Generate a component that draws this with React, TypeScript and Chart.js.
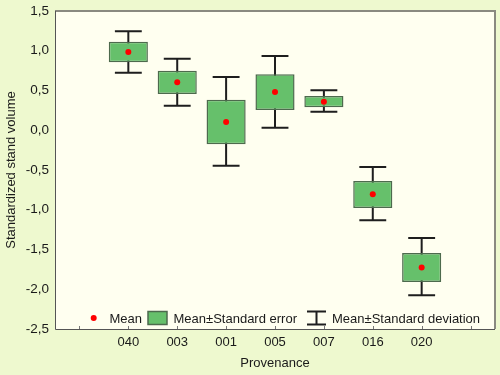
import React, { useEffect, useRef } from "react";
import { Chart, registerables } from "chart.js";

Chart.register(...registerables);

const categories = ["", "040", "003", "001", "005", "007", "016", "020", ""];
const means = [null, 0.985, 0.605, 0.105, 0.48, 0.36, -0.805, -1.725, null];
const seLow = [null, 0.855, 0.456, -0.177, 0.255, 0.289, -0.978, -1.909, null];
const seHigh = [null, 1.114, 0.749, 0.384, 0.703, 0.431, -0.638, -1.544, null];
const sdLow = [null, 0.724, 0.309, -0.446, 0.032, 0.234, -1.133, -2.076, null];
const sdHigh = [null, 1.244, 0.9, 0.67, 0.934, 0.502, -0.462, -1.355, null];
const yTicks = [-2.5, -2.0, -1.5, -1.0, -0.5, 0.0, 0.5, 1.0, 1.5];

const FONT = '"Liberation Sans", Arial, sans-serif';
const TEXT = "#1a1a1a";
const GREEN = "#66c06b";
const GREEN_BORDER = "#4d6a4d";

const bgPlugin = {
  id: "bgPlugin",
  beforeDraw(chart: any) {
    const { ctx, chartArea: ca, width, height } = chart;
    ctx.save();
    ctx.fillStyle = "#eef9cf";
    ctx.fillRect(0, 0, width, height);
    ctx.fillStyle = "#fffff0";
    ctx.fillRect(ca.left, ca.top, ca.right - ca.left, ca.bottom - ca.top);
    ctx.restore();
  },
  beforeDatasetsDraw(chart: any) {
    const { ctx, scales } = chart;
    const xs = scales.x;
    const ys = scales.y;
    ctx.save();
    ctx.strokeStyle = "#1e1e1e";
    ctx.lineWidth = 2;
    const half = (xs.getPixelForValue(1) - xs.getPixelForValue(0)) * 0.275;
    for (let i = 0; i < categories.length; i++) {
      if (sdLow[i] == null || sdHigh[i] == null) continue;
      const x = xs.getPixelForValue(i);
      const yt = ys.getPixelForValue(sdHigh[i] as number);
      const yb = ys.getPixelForValue(sdLow[i] as number);
      ctx.beginPath();
      ctx.moveTo(x, yt);
      ctx.lineTo(x, yb);
      ctx.moveTo(x - half, yt);
      ctx.lineTo(x + half, yt);
      ctx.moveTo(x - half, yb);
      ctx.lineTo(x + half, yb);
      ctx.stroke();
    }
    ctx.restore();
  },
  afterDatasetsDraw(chart: any) {
    const { ctx, chartArea: ca, scales } = chart;
    const xs = scales.x;
    ctx.save();
    // frame
    ctx.strokeStyle = "#8a8a80";
    ctx.lineWidth = 2;
    ctx.beginPath();
    ctx.moveTo(ca.left, ca.top);
    ctx.lineTo(ca.right, ca.top);
    ctx.lineTo(ca.right, ca.bottom);
    ctx.stroke();
    ctx.strokeStyle = "#555555";
    ctx.lineWidth = 1;
    ctx.beginPath();
    ctx.moveTo(ca.left + 0.5, ca.top);
    ctx.lineTo(ca.left + 0.5, ca.bottom + 0.5);
    ctx.lineTo(ca.right, ca.bottom + 0.5);
    ctx.stroke();
    // inward x ticks
    ctx.strokeStyle = "#777";
    for (let i = 0; i < categories.length; i++) {
      const x = Math.round(xs.getPixelForValue(i)) + 0.5;
      ctx.beginPath();
      ctx.moveTo(x, ca.bottom);
      ctx.lineTo(x, ca.bottom - 3);
      ctx.stroke();
    }
    // legend
    const ly = ca.bottom - 11;
    const lx = ca.left;
    ctx.font = `13px ${FONT}`;
    ctx.fillStyle = TEXT;
    ctx.textBaseline = "middle";
    ctx.textAlign = "left";
    // mean dot
    ctx.beginPath();
    ctx.fillStyle = "#ff0000";
    ctx.arc(lx + 38.7, ly, 3, 0, Math.PI * 2);
    ctx.fill();
    ctx.fillStyle = TEXT;
    ctx.fillText("Mean", lx + 54.5, ly + 1);
    // green box
    ctx.fillStyle = GREEN;
    ctx.fillRect(lx + 93, ly - 6.5, 19, 13);
    ctx.strokeStyle = GREEN_BORDER;
    ctx.lineWidth = 1.5;
    ctx.strokeRect(lx + 93, ly - 6.5, 19, 13);
    ctx.fillStyle = TEXT;
    ctx.fillText("Mean\u00b1Standard error", lx + 118.5, ly + 1);
    // whisker icon
    ctx.strokeStyle = "#1e1e1e";
    ctx.lineWidth = 2;
    ctx.beginPath();
    ctx.moveTo(lx + 252, ly - 6.5);
    ctx.lineTo(lx + 271, ly - 6.5);
    ctx.moveTo(lx + 261.5, ly - 6.5);
    ctx.lineTo(lx + 261.5, ly + 6.5);
    ctx.moveTo(lx + 252, ly + 6.5);
    ctx.lineTo(lx + 271, ly + 6.5);
    ctx.stroke();
    ctx.fillText("Mean\u00b1Standard deviation", lx + 277, ly + 1);
    ctx.restore();
  },
};

export default function App() {
  const ref = useRef<HTMLCanvasElement | null>(null);
  useEffect(() => {
    document.body.style.margin = "0";
    const canvas = ref.current;
    if (!canvas) return;
    const boxes = categories.map((_, i) =>
      seLow[i] == null ? null : [seLow[i], seHigh[i]]
    );
    const chart = new Chart(canvas, {
      type: "bar",
      data: {
        labels: categories,
        datasets: [
          {
            type: "line",
            label: "Mean",
            data: means as any,
            showLine: false,
            pointRadius: 3,
            pointHoverRadius: 3,
            pointBackgroundColor: "#ff0000",
            pointBorderColor: "#ff0000",
            pointBorderWidth: 0,
            order: 0,
          } as any,
          {
            type: "bar",
            label: "Mean±Standard error",
            data: boxes as any,
            backgroundColor: GREEN,
            borderColor: GREEN_BORDER,
            borderWidth: 1.5,
            borderSkipped: false,
            barPercentage: 1,
            categoryPercentage: 0.8,
            grouped: false,
            order: 1,
          } as any,
        ],
      },
      options: {
        animation: false,
        responsive: false,
        maintainAspectRatio: false,
        devicePixelRatio: 1,
        layout: { padding: { top: 11, right: 5, left: 0, bottom: 0 } },
        plugins: { legend: { display: false }, tooltip: { enabled: false } },
        scales: {
          x: {
            type: "category",
            offset: true,
            grid: { display: false, drawTicks: false },
            border: { display: false },
            ticks: {
              autoSkip: false,
              maxRotation: 0,
              padding: 6,
              color: TEXT,
              font: { family: FONT, size: 13 },
            },
            title: {
              display: true,
              text: "Provenance",
              color: TEXT,
              font: { family: FONT, size: 13 },
              padding: { top: 4, bottom: 4 },
            },
            afterFit: (s: any) => {
              s.height = 46;
              s.paddingLeft = 0;
              s.paddingRight = 0;
            },
          },
          y: {
            type: "linear",
            min: -2.5,
            max: 1.5,
            afterBuildTicks: (s: any) => {
              s.ticks = yTicks.map((v) => ({ value: v }));
            },
            grid: { display: false, drawTicks: false },
            border: { display: false },
            ticks: {
              padding: 6,
              color: TEXT,
              font: { family: FONT, size: 13.5 },
              callback: (v: any) => Number(v).toFixed(1).replace(".", ","),
            },
            title: {
              display: true,
              text: "Standardized stand volume",
              color: TEXT,
              font: { family: FONT, size: 13 },
              padding: { top: 4, bottom: 4 },
            },
            afterFit: (s: any) => {
              s.width = 55;
              s.paddingTop = 0;
              s.paddingBottom = 0;
            },
          },
        },
      },
      plugins: [bgPlugin],
    });
    return () => chart.destroy();
  }, []);
  return (
    <div style={{ width: 500, height: 375 }}>
      <canvas ref={ref} width={500} height={375} style={{ display: "block" }} />
    </div>
  );
}
